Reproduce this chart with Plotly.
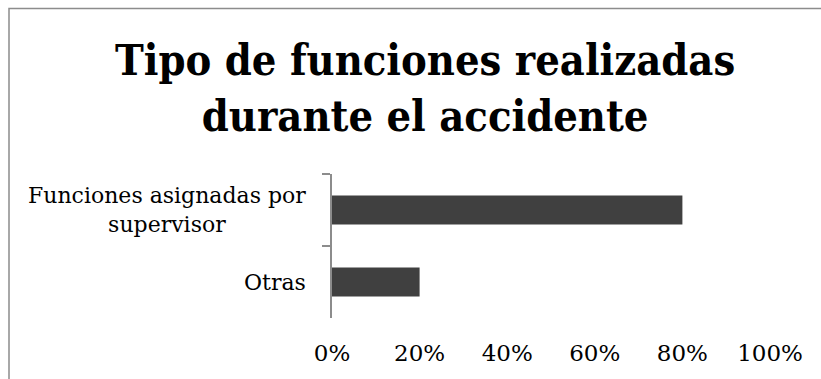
import plotly.graph_objects as go

# Chart data
categories = ["Funciones asignadas por<br>supervisor", "Otras"]
shares = [0.80, 0.20]
x_ticks = [0, 0.2, 0.4, 0.6, 0.8, 1.0]
title_text = "Tipo de funciones realizadas<br>durante el accidente"

W, H = 821, 379
L, R, T, B = 332, 51, 174, 61
plot_w = W - L - R
plot_h = H - T - B


def px_x(px):
    return (px - L) / plot_w


def px_y(py):
    return (H - B - py) / plot_h


bar_color = "#404040"
axis_color = "#8c8c8c"
label_font = dict(family="DejaVu Serif", size=22, color="#000000")
tick_font = dict(family="DejaVu Serif", size=23, color="#000000")

fig = go.Figure(
    go.Bar(
        x=shares,
        y=categories,
        orientation="h",
        marker=dict(color=bar_color, line=dict(width=0)),
        hoverinfo="skip",
    )
)

fig.update_layout(
    width=W,
    height=H,
    margin=dict(l=L, r=R, t=T, b=B, pad=0),
    paper_bgcolor="white",
    plot_bgcolor="white",
    showlegend=False,
    bargap=0.6,
    xaxis=dict(
        range=[0, 1],
        tickvals=x_ticks,
        tickformat=".0%",
        showgrid=False,
        zeroline=False,
        showline=False,
        ticks="",
        tickfont=tick_font,
        ticklabelstandoff=19,
    ),
    yaxis=dict(
        categoryorder="array",
        categoryarray=categories,
        autorange="reversed",
        showgrid=False,
        zeroline=False,
        showline=True,
        linecolor=axis_color,
        linewidth=1.5,
        ticks="outside",
        tickson="boundaries",
        ticklen=8,
        tickwidth=1.5,
        tickcolor=axis_color,
        showticklabels=False,
    ),
)

# Category labels, centred line by line like wrapped axis text
for cat in categories:
    fig.add_annotation(
        x=0, xref="paper", y=cat, yref="y",
        text=cat, showarrow=False,
        xanchor="right", yanchor="middle", align="center",
        xshift=-24, font=label_font,
    )

# Two-line bold title
fig.add_annotation(
    x=px_x(425), xref="paper", y=px_y(88), yref="paper",
    text=title_text, showarrow=False,
    xanchor="center", yanchor="middle", align="center",
    font=dict(family="DejaVu Serif Condensed, Liberation Serif", size=43,
              color="#000000", weight="bold"),
)

# Chart-area border
fig.add_shape(
    type="rect", xref="paper", yref="paper",
    x0=px_x(9), x1=px_x(840), y0=px_y(400), y1=px_y(8.5),
    line=dict(color=axis_color, width=1.5), fillcolor="rgba(0,0,0,0)",
    layer="below",
)

fig.write_html("out.html")
